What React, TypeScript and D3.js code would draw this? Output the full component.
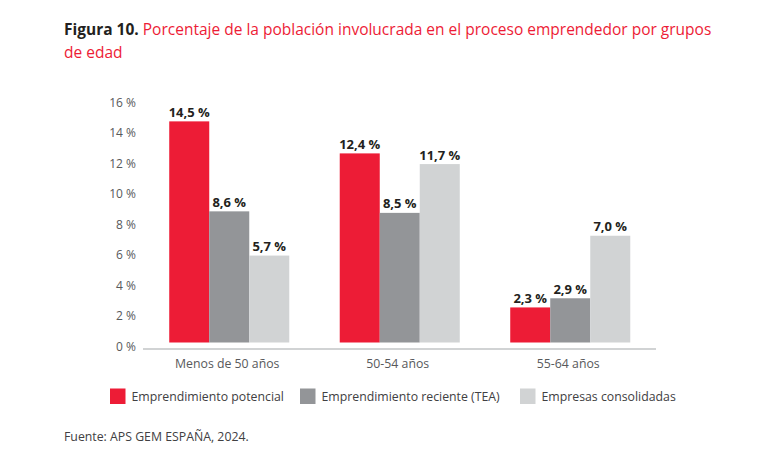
import * as d3 from "d3";

// age groups and the three series
const groups = ["Menos de 50 años", "50-54 años", "55-64 años"];
const seriesNames = [
  "Emprendimiento potencial",
  "Emprendimiento reciente (TEA)",
  "Empresas consolidadas",
];
const potencial = [14.5, 12.4, 2.3];
const reciente = [8.6, 8.5, 2.9];
const consolidadas = [5.7, 11.7, 7.0];
const yTicks = [0, 2, 4, 6, 8, 10, 12, 14, 16];
const colors = ["#ed1c36", "#939598", "#d1d3d4"];

const width = 765;
const height = 471;
const font = "'Open Sans', sans-serif";

const fmt = (v: number) => v.toFixed(1).replace(".", ",") + " %";

export default function App() {
  const seriesValues = [potencial, reciente, consolidadas];

  const x = d3
    .scaleBand<string>()
    .domain(groups)
    .range([144, 655.5])
    .paddingInner(0.296)
    .paddingOuter(0.148);

  const xInner = d3
    .scaleBand<string>()
    .domain(seriesNames)
    .range([0, x.bandwidth()])
    .padding(0);

  const y = d3.scaleLinear().domain([0, 16]).range([342.5, 98.5]);

  // legend positions (square x) per series
  const legendX = [110, 300, 520];

  return (
    <svg
      width={width}
      height={height}
      style={{ position: "absolute", left: 0, top: 0, background: "#fff" }}
      fontFamily={font}
    >
      {/* title */}
      <text x={64} y={35} fontSize={15.5} fill="#ed1c36" fontWeight={500}>
        <tspan fill="#231f20" fontWeight={700}>Figura 10.</tspan>{" "}
        Porcentaje de la población involucrada en el proceso emprendedor por grupos
      </text>
      <text x={64} y={58} fontSize={15.5} fill="#ed1c36" fontWeight={500}>
        de edad
      </text>

      {/* y tick labels */}
      {yTicks.map((t) => (
        <text
          key={t}
          x={136}
          y={y(t) + 4}
          dy="0.35em"
          textAnchor="end"
          fontSize={12}
          fill="#58595b"
        >
          {t} %
        </text>
      ))}

      {/* bars and value labels */}
      {groups.map((g, gi) => (
        <g key={g} transform={`translate(${x(g)},0)`}>
          {seriesNames.map((s, si) => {
            const v = seriesValues[si][gi];
            const bx = xInner(s) as number;
            return (
              <g key={s}>
                <rect
                  x={bx}
                  y={y(v)}
                  width={xInner.bandwidth()}
                  height={y(0) - y(v)}
                  fill={colors[si]}
                />
                <text
                  x={bx + xInner.bandwidth() / 2}
                  y={y(v) - 4.5}
                  textAnchor="middle"
                  fontSize={13}
                  fontWeight={700}
                  fill="#231f20"
                >
                  {fmt(v)}
                </text>
              </g>
            );
          })}
        </g>
      ))}

      {/* baseline */}
      <line x1={143} x2={656} y1={349} y2={349} stroke="#d1d3d4" strokeWidth={2} />

      {/* category labels */}
      {groups.map((g) => (
        <text
          key={g}
          x={(x(g) as number) + x.bandwidth() / 2 - 2}
          y={368}
          textAnchor="middle"
          fontSize={12.3}
          fill="#58595b"
        >
          {g}
        </text>
      ))}

      {/* legend */}
      {seriesNames.map((s, si) => (
        <g key={s}>
          <rect x={legendX[si]} y={388.5} width={15.5} height={15.5} fill={colors[si]} />
          <text
            x={legendX[si] + 21.5}
            y={396.5}
            dy="0.35em"
            fontSize={12.3}
            fill="#414042"
          >
            {s}
          </text>
        </g>
      ))}

      {/* source */}
      <text x={64} y={440.5} fontSize={12.3} fill="#414042">
        Fuente: APS GEM ESPAÑA, 2024.
      </text>
    </svg>
  );
}
